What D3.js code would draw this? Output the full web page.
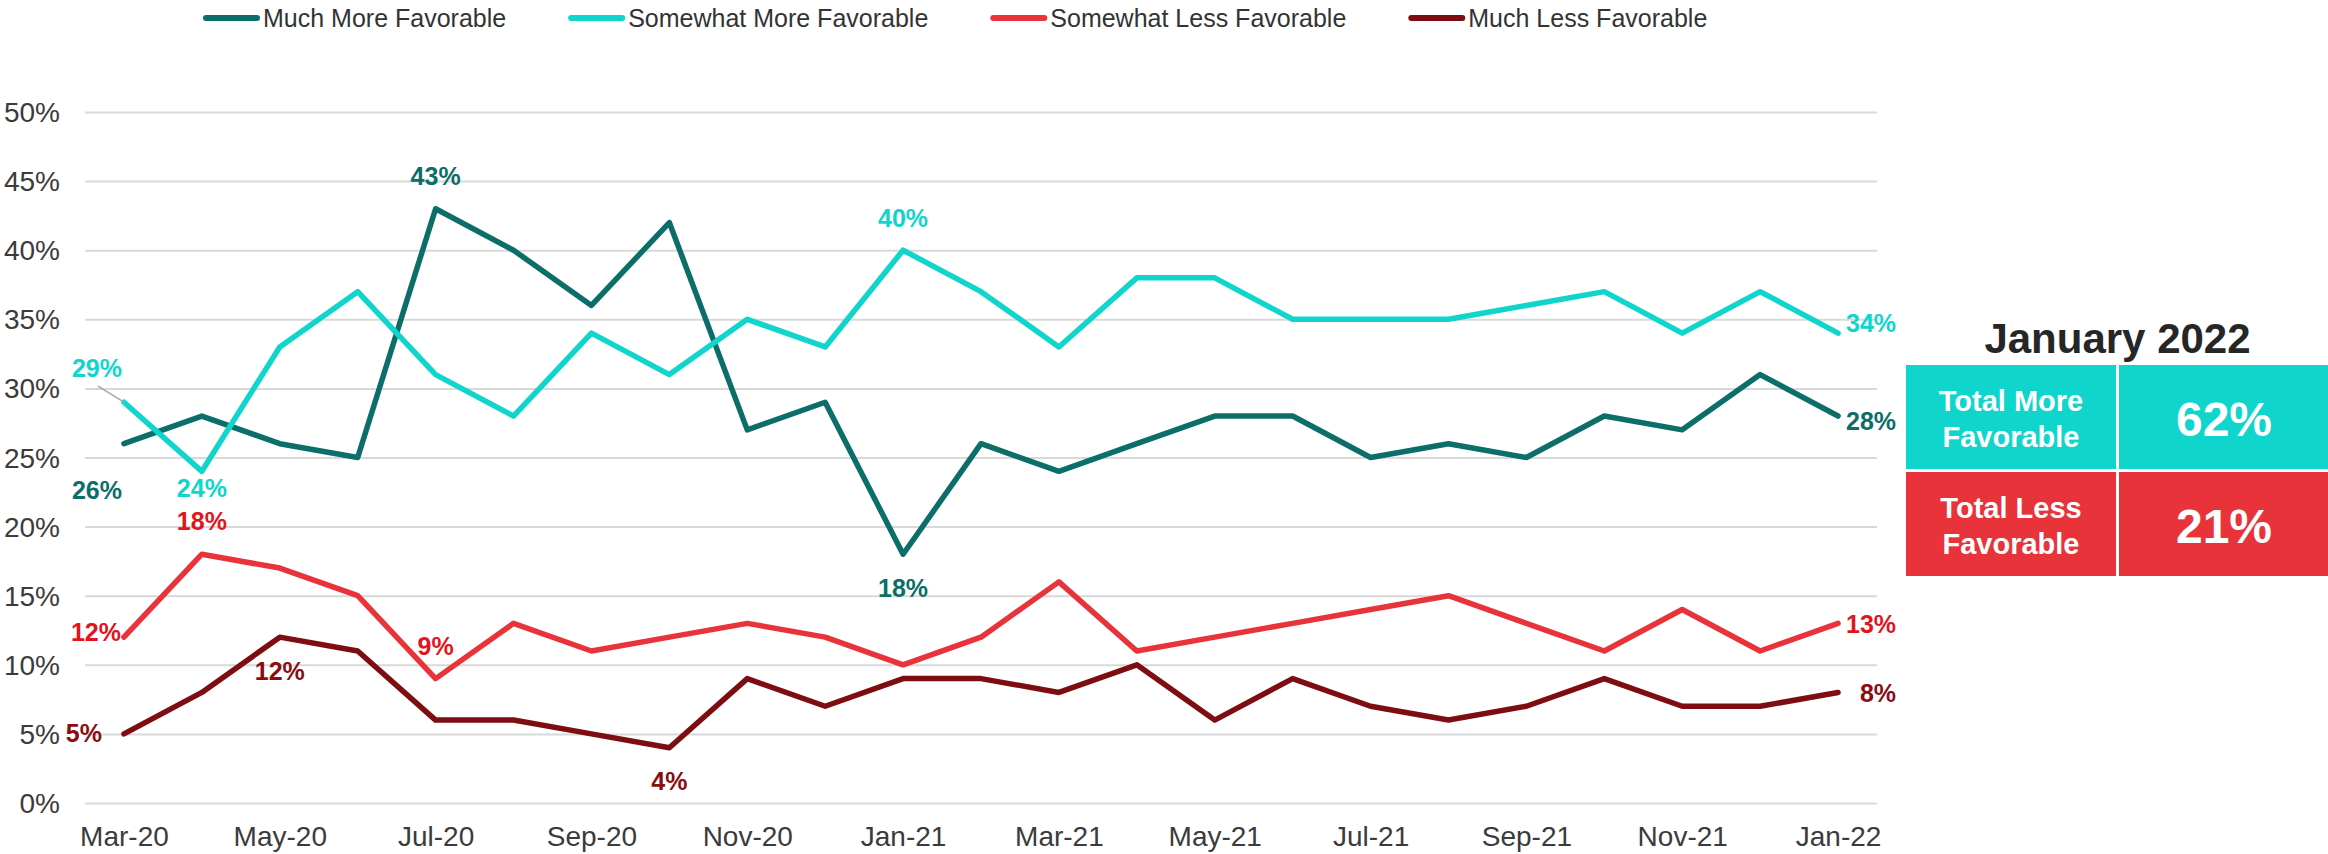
<!DOCTYPE html>
<html>
<head>
<meta charset="utf-8">
<script src="https://cdn.jsdelivr.net/npm/d3@7"></script>
<style>
body { margin: 0; background: #fff; }
text { font-family: "Liberation Sans", Arial, sans-serif; }
</style>
</head>
<body>
<svg id="chart" width="2328" height="854"></svg>
<script>

const months = ["Mar-20", "Apr-20", "May-20", "Jun-20", "Jul-20", "Aug-20", "Sep-20", "Oct-20", "Nov-20", "Dec-20",
  "Jan-21", "Feb-21", "Mar-21", "Apr-21", "May-21", "Jun-21", "Jul-21", "Aug-21", "Sep-21", "Oct-21", "Nov-21", "Dec-21", "Jan-22"]

const muchMore = [26, 28, 26, 25, 43, 40, 36, 42, 27, 29, 18, 26, 24, 26, 28, 28, 25, 26, 25, 28, 27, 31, 28]
const somewhatMore = [29, 24, 33, 37, 31, 28, 34, 31, 35, 33, 40, 37, 33, 38, 38, 35, 35, 35, 36, 37, 34, 37, 34]
const somewhatLess = [12, 18, 17, 15, 9, 13, 11, 12, 13, 12, 10, 12, 16, 11, 12, 13, 14, 15, 13, 11, 14, 11, 13]
const muchLess = [5, 8, 12, 11, 6, 6, 5, 4, 9, 7, 9, 9, 8, 10, 6, 9, 7, 6, 7, 9, 7, 7, 8]

const seriesNames = ["Much More Favorable", "Somewhat More Favorable", "Somewhat Less Favorable", "Much Less Favorable"]
const yTicks = [0, 5, 10, 15, 20, 25, 30, 35, 40, 45, 50]
const xTickLabels = months.filter((d, i) => i % 2 == 0)

const summaryTitle = "January 2022"
const summaryLabels = [["Total More", "Favorable"], ["Total Less", "Favorable"]]
const summaryValues = [62, 21]

const series = [muchMore, somewhatMore, somewhatLess, muchLess]
const lineColors = ["#0b6e69", "#10d5cc", "#e8333a", "#7d0d10"]
const labelColors = ["#0b6e69", "#10d5cc", "#e3141b", "#8b0d12"]
const summaryColors = ["#10d5cc", "#e8333a"]

// which points get a value label, and where the label sits relative to the point
const pointLabels = [
  { s: 0, i: 0, dx: -27, dy: 55, anchor: "middle" },
  { s: 0, i: 4, dx: 0, dy: -24, anchor: "middle" },
  { s: 0, i: 10, dx: 0, dy: 43, anchor: "middle" },
  { s: 0, i: 22, dx: 58, dy: 14, anchor: "end" },
  { s: 1, i: 0, dx: -27, dy: -25, anchor: "middle" },
  { s: 1, i: 1, dx: 0, dy: 26, anchor: "middle" },
  { s: 1, i: 10, dx: 0, dy: -23, anchor: "middle" },
  { s: 1, i: 22, dx: 58, dy: -1, anchor: "end" },
  { s: 2, i: 0, dx: -3, dy: 4, anchor: "end" },
  { s: 2, i: 1, dx: 0, dy: -24, anchor: "middle" },
  { s: 2, i: 4, dx: 0, dy: -24, anchor: "middle" },
  { s: 2, i: 22, dx: 58, dy: 10, anchor: "end" },
  { s: 3, i: 0, dx: -22, dy: 8, anchor: "end" },
  { s: 3, i: 2, dx: 0, dy: 43, anchor: "middle" },
  { s: 3, i: 7, dx: 0, dy: 42, anchor: "middle" },
  { s: 3, i: 22, dx: 58, dy: 10, anchor: "end" }
]

const svg = d3.select("#chart")

const plot = { left: 85, right: 1877, top: 112, bottom: 803 }

const x = d3.scalePoint()
  .domain(months)
  .range([plot.left, plot.right])
  .padding(0.5)

const y = d3.scaleLinear()
  .domain([0, 50])
  .range([plot.bottom, plot.top])

const yAxis = svg.append("g")
  .attr("transform", `translate(${plot.left},0)`)
  .call(d3.axisLeft(y)
    .tickValues(yTicks)
    .tickSize(-(plot.right - plot.left))
    .tickPadding(25)
    .tickFormat(d => d + "%"))

yAxis.select(".domain").remove()

yAxis.selectAll(".tick line")
  .attr("stroke", "#d9d9d9")
  .attr("stroke-width", 2)

yAxis.selectAll(".tick text")
  .attr("fill", "#3b3b3b")
  .style("font-size", "28px")
  .attr("dy", "0.34em")

const xAxis = svg.append("g")
  .attr("transform", `translate(0,${plot.bottom})`)
  .call(d3.axisBottom(x)
    .tickValues(xTickLabels)
    .tickSize(0)
    .tickPadding(23))

xAxis.select(".domain").remove()

xAxis.selectAll(".tick text")
  .attr("fill", "#3b3b3b")
  .style("font-size", "28px")

const line = d3.line()
  .x((d, i) => x(months[i]))
  .y(d => y(d))

series.forEach((values, s) => {
  svg.append("path")
    .attr("d", line(values))
    .attr("fill", "none")
    .attr("stroke", lineColors[s])
    .attr("stroke-width", 5.5)
    .attr("stroke-linejoin", "round")
    .attr("stroke-linecap", "round")
})

// leader from the first "Somewhat More" label to its point
svg.append("line")
  .attr("x1", x(months[0]) - 26)
  .attr("y1", y(somewhatMore[0]) - 16)
  .attr("x2", x(months[0]))
  .attr("y2", y(somewhatMore[0]))
  .attr("stroke", "#a6a6a6")
  .attr("stroke-width", 1.5)

svg.append("g")
  .selectAll("text")
  .data(pointLabels)
  .join("text")
  .attr("x", d => x(months[d.i]) + d.dx)
  .attr("y", d => y(series[d.s][d.i]) + d.dy)
  .attr("text-anchor", d => d.anchor)
  .attr("fill", d => labelColors[d.s])
  .style("font-size", "25px")
  .style("font-weight", "bold")
  .text(d => series[d.s][d.i] + "%")

// legend
const legend = svg.append("g")
  .attr("transform", "translate(203,0)")

let legendX = 0

seriesNames.forEach((name, s) => {
  const item = legend.append("g")
    .attr("transform", `translate(${legendX},0)`)

  item.append("line")
    .attr("x1", 3)
    .attr("x2", 54)
    .attr("y1", 18)
    .attr("y2", 18)
    .attr("stroke", lineColors[s])
    .attr("stroke-width", 6)
    .attr("stroke-linecap", "round")

  const label = item.append("text")
    .attr("x", 60)
    .attr("y", 27)
    .attr("fill", "#333")
    .style("font-size", "25px")
    .text(name)

  legendX += 60 + label.node().getComputedTextLength() + 62
})

// January 2022 summary table
const table = { left: 1906, colWidth: 210, gap: 3, top: 365, rowHeight: 104 }

svg.append("text")
  .attr("x", table.left + table.colWidth + table.gap / 2)
  .attr("y", 353)
  .attr("text-anchor", "middle")
  .attr("fill", "#262626")
  .style("font-size", "42px")
  .style("font-weight", "bold")
  .text(summaryTitle)

summaryValues.forEach((value, r) => {
  const rowY = table.top + r * (table.rowHeight + table.gap)
  const row = svg.append("g")
    .attr("transform", `translate(${table.left},${rowY})`)

  row.selectAll("rect")
    .data([0, 1])
    .join("rect")
    .attr("x", c => c * (table.colWidth + table.gap))
    .attr("y", 0)
    .attr("width", table.colWidth)
    .attr("height", table.rowHeight)
    .attr("fill", summaryColors[r])

  row.append("text")
    .attr("x", table.colWidth / 2)
    .attr("y", 46)
    .attr("text-anchor", "middle")
    .attr("fill", "#fff")
    .style("font-size", "29px")
    .style("font-weight", "bold")
    .selectAll("tspan")
    .data(summaryLabels[r])
    .join("tspan")
    .attr("x", table.colWidth / 2)
    .attr("dy", (d, k) => k == 0 ? 0 : 36)
    .text(d => d)

  row.append("text")
    .attr("x", table.colWidth * 1.5 + table.gap)
    .attr("y", 71)
    .attr("text-anchor", "middle")
    .attr("fill", "#fff")
    .style("font-size", "48px")
    .style("font-weight", "bold")
    .text(value + "%")
})

</script>
</body>
</html>
